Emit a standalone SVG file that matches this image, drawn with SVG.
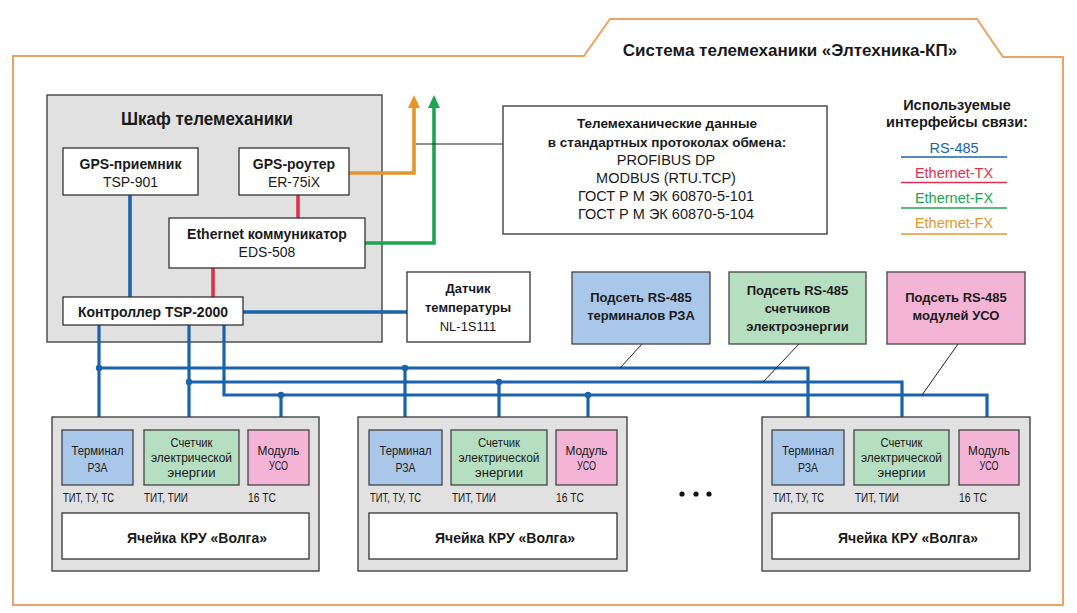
<svg xmlns="http://www.w3.org/2000/svg" width="1077" height="613" viewBox="0 0 1077 613">
<defs>
<style>
text{font-family:"Liberation Sans",Arial,sans-serif;fill:#1a1a1a;}
.b{font-weight:bold;}
.c{text-anchor:middle;}
.f14{font-size:14px;}
.f13{font-size:13px;}
.f12{font-size:13.5px;}
.lg{font-size:14.5px;}
.box{fill:#fff;stroke:#333;stroke-width:1.3;}
.gray{fill:#e1e1e1;stroke:#444;stroke-width:1.4;}
.rza{fill:#a9c7e9;stroke:#444;stroke-width:1.3;}
.cnt{fill:#b6dec1;stroke:#444;stroke-width:1.3;}
.uso{fill:#f4b4d6;stroke:#444;stroke-width:1.3;}
.blue{fill:none;stroke:#1a63ab;stroke-width:3.2;}
.bw{fill:none;stroke:#1a63ab;stroke-width:3.6;}
.red{fill:none;stroke:#e0304f;stroke-width:3.6;}
.org{fill:none;stroke:#e3972a;stroke-width:3.6;}
.grn{fill:none;stroke:#1ea552;stroke-width:3.6;}
.thin{fill:none;stroke:#222;stroke-width:1;}
.dot{fill:#1a63ab;}
</style>
<marker id="ao" markerUnits="userSpaceOnUse" markerWidth="14" markerHeight="14" refX="2" refY="6" orient="auto" viewBox="0 0 14 12">
<path d="M0,0 L13,6 L0,12 Z" fill="#e3972a"/>
</marker>
<marker id="ag" markerUnits="userSpaceOnUse" markerWidth="14" markerHeight="14" refX="2" refY="6" orient="auto" viewBox="0 0 14 12">
<path d="M0,0 L13,6 L0,12 Z" fill="#1ea552"/>
</marker>
</defs>
<rect width="1077" height="613" fill="#fff"/>

<g id="frame">
<path d="M13,56 L584,56 L610,19 L977,19 L1003,57 L1063,57 L1063,605 L13,605 Z" fill="none" stroke="#e9a465" stroke-width="2"/>
<text x="790" y="56" class="b c" style="font-size:17px">Система телемеханики «Элтехника-КП»</text>
</g>

<g id="cabinet">
<rect x="47" y="95" width="335" height="247" class="gray"/>
<text x="207" y="125" class="b c" style="font-size:18px" textLength="172" lengthAdjust="spacingAndGlyphs">Шкаф телемеханики</text>
</g>

<g id="connectors">
<line x1="130" y1="195" x2="130" y2="297" class="bw"/>
<line x1="298" y1="195" x2="298" y2="218" class="red"/>
<line x1="213" y1="268" x2="213" y2="297" class="red"/>
<line x1="243" y1="312" x2="407" y2="312" class="bw"/>
<polyline points="349,173 414,173 414,106" class="org" marker-end="url(#ao)"/>
<polyline points="365,243 434,243 434,106" class="grn" marker-end="url(#ag)"/>
<line x1="416" y1="144" x2="503" y2="144" class="thin"/>
<polyline points="99,325 99,430" class="blue"/>
<polyline points="189,325 189,430" class="blue"/>
<polyline points="224,325 224,395 987,395 987,430" class="blue"/>
<polyline points="99,368 808,368 808,430" class="blue"/>
<polyline points="189,382 902,382 902,430" class="blue"/>
<line x1="281" y1="395" x2="281" y2="430" class="blue"/>
<line x1="405" y1="368" x2="405" y2="430" class="blue"/>
<line x1="499" y1="382" x2="499" y2="430" class="blue"/>
<line x1="588" y1="395" x2="588" y2="430" class="blue"/>
<circle cx="99" cy="368" r="3.2" class="dot"/>
<circle cx="189" cy="382" r="3.2" class="dot"/>
<circle cx="281" cy="395" r="3.2" class="dot"/>
<circle cx="405" cy="368" r="3.2" class="dot"/>
<circle cx="499" cy="382" r="3.2" class="dot"/>
<circle cx="588" cy="395" r="3.2" class="dot"/>
<line x1="642" y1="344" x2="620" y2="368" class="thin"/>
<line x1="799" y1="344" x2="763" y2="382" class="thin"/>
<line x1="958" y1="344" x2="922" y2="395" class="thin"/>
</g>

<g id="gps-receiver">
<rect x="63" y="148" width="135" height="47" class="box"/>
<text x="130.5" y="169" class="b c f14">GPS-приемник</text>
<text x="130.5" y="187" class="c f14">TSP-901</text>
</g>
<g id="gps-router">
<rect x="239" y="148" width="110" height="47" class="box"/>
<text x="294" y="169" class="b c f14">GPS-роутер</text>
<text x="294" y="187" class="c f14">ER-75iX</text>
</g>
<g id="ethernet-switch">
<rect x="169" y="218" width="196" height="50" class="box"/>
<text x="267" y="239" class="b c f14">Ethernet коммуникатор</text>
<text x="267" y="257" class="c f14">EDS-508</text>
</g>
<g id="controller">
<rect x="63" y="297" width="180" height="28" class="box"/>
<text x="153" y="317" class="b c f14">Контроллер TSP-2000</text>
</g>

<g id="protocols">
<rect x="503" y="106" width="324" height="128" class="box"/>
<text x="667" y="128" class="b c" style="font-size:13.5px">Телемеханические данные</text>
<text x="667" y="147" class="b c" style="font-size:13.5px">в стандартных протоколах обмена:</text>
<text x="666" y="165" class="c" style="font-size:14.5px">PROFIBUS DP</text>
<text x="666" y="183" class="c" style="font-size:14.5px">MODBUS (RTU.TCP)</text>
<text x="666" y="201" class="c" style="font-size:14.5px">ГОСТ Р М ЭК 60870-5-101</text>
<text x="666" y="219" class="c" style="font-size:14.5px">ГОСТ Р М ЭК 60870-5-104</text>
</g>

<g id="legend">
<text x="957" y="110" class="b c lg">Используемые</text>
<text x="957" y="127" class="b c lg">интерфейсы связи:</text>
<text x="954" y="153" class="c lg" style="fill:#1a63ab">RS-485</text>
<line x1="901" y1="157" x2="1007" y2="157" stroke="#1a63ab" stroke-width="1.6"/>
<text x="954" y="178" class="c lg" style="fill:#e0304f">Ethernet-TX</text>
<line x1="901" y1="182.5" x2="1007" y2="182.5" stroke="#e0304f" stroke-width="1.6"/>
<text x="954" y="203" class="c lg" style="fill:#1ea552">Ethernet-FX</text>
<line x1="901" y1="208" x2="1007" y2="208" stroke="#1ea552" stroke-width="1.6"/>
<text x="954" y="228" class="c lg" style="fill:#e3972a">Ethernet-FX</text>
<line x1="901" y1="234" x2="1007" y2="234" stroke="#e3972a" stroke-width="1.6"/>
</g>

<g id="temp-sensor">
<rect x="407" y="272" width="123" height="70" class="box"/>
<text x="468" y="293" class="b c f13">Датчик</text>
<text x="468" y="312" class="b c f13">температуры</text>
<text x="468" y="331" class="c f13">NL-1S111</text>
</g>
<g id="subnet-rza">
<rect x="572" y="272" width="138" height="72" class="rza"/>
<text x="641" y="302" class="b c f13">Подсеть RS-485</text>
<text x="641" y="320" class="b c f13">терминалов РЗА</text>
</g>
<g id="subnet-meters">
<rect x="729" y="272" width="137" height="72" class="cnt"/>
<text x="797.5" y="295" class="b c f13">Подсеть RS-485</text>
<text x="797.5" y="313" class="b c f13">счетчиков</text>
<text x="797.5" y="331" class="b c f13">электроэнергии</text>
</g>
<g id="subnet-uso">
<rect x="887" y="272" width="138" height="72" class="uso"/>
<text x="956" y="302" class="b c f13">Подсеть RS-485</text>
<text x="956" y="320" class="b c f13">модулей УСО</text>
</g>

<g id="cell-1">
<rect x="52" y="417" width="267" height="154" class="gray"/>
<rect x="62" y="430" width="71" height="55" class="rza"/>
<text x="97.5" y="455" class="c f12" textLength="52" lengthAdjust="spacingAndGlyphs">Терминал</text>
<text x="97.5" y="472" class="c f12" textLength="20" lengthAdjust="spacingAndGlyphs">РЗА</text>
<rect x="144" y="430" width="95" height="55" class="cnt"/>
<text x="191.5" y="447" class="c f12" textLength="42" lengthAdjust="spacingAndGlyphs">Счетчик</text>
<text x="191.5" y="462" class="c f12" textLength="81" lengthAdjust="spacingAndGlyphs">электрической</text>
<text x="191.5" y="477" class="c f12" textLength="48" lengthAdjust="spacingAndGlyphs">энергии</text>
<rect x="248" y="430" width="61" height="55" class="uso"/>
<text x="278.5" y="455" class="c f12" textLength="42" lengthAdjust="spacingAndGlyphs">Модуль</text>
<text x="278.5" y="470" class="c f12" textLength="19" lengthAdjust="spacingAndGlyphs">УСО</text>
<text x="63" y="502" class="f12" textLength="51" lengthAdjust="spacingAndGlyphs">ТИТ, ТУ, ТС</text>
<text x="144" y="502" class="f12" textLength="44" lengthAdjust="spacingAndGlyphs">ТИТ, ТИИ</text>
<text x="248" y="502" class="f12" textLength="28" lengthAdjust="spacingAndGlyphs">16 ТС</text>
<rect x="62" y="513" width="247" height="46" class="box"/>
<text x="197" y="543" class="b c f14">Ячейка КРУ «Волга»</text>
</g>

<g id="cell-2">
<rect x="358" y="417" width="269" height="154" class="gray"/>
<rect x="369" y="430" width="73" height="55" class="rza"/>
<text x="405.5" y="455" class="c f12" textLength="52" lengthAdjust="spacingAndGlyphs">Терминал</text>
<text x="405.5" y="472" class="c f12" textLength="20" lengthAdjust="spacingAndGlyphs">РЗА</text>
<rect x="451" y="430" width="96" height="55" class="cnt"/>
<text x="499" y="447" class="c f12" textLength="42" lengthAdjust="spacingAndGlyphs">Счетчик</text>
<text x="499" y="462" class="c f12" textLength="81" lengthAdjust="spacingAndGlyphs">электрической</text>
<text x="499" y="477" class="c f12" textLength="48" lengthAdjust="spacingAndGlyphs">энергии</text>
<rect x="556" y="430" width="61" height="55" class="uso"/>
<text x="586.5" y="455" class="c f12" textLength="42" lengthAdjust="spacingAndGlyphs">Модуль</text>
<text x="586.5" y="470" class="c f12" textLength="19" lengthAdjust="spacingAndGlyphs">УСО</text>
<text x="370" y="502" class="f12" textLength="51" lengthAdjust="spacingAndGlyphs">ТИТ, ТУ, ТС</text>
<text x="452" y="502" class="f12" textLength="44" lengthAdjust="spacingAndGlyphs">ТИТ, ТИИ</text>
<text x="556" y="502" class="f12" textLength="28" lengthAdjust="spacingAndGlyphs">16 ТС</text>
<rect x="369" y="513" width="248" height="46" class="box"/>
<text x="505" y="543" class="b c f14">Ячейка КРУ «Волга»</text>
</g>

<g id="ellipsis">
<circle cx="682" cy="494" r="2.6" fill="#111"/>
<circle cx="696" cy="494" r="2.6" fill="#111"/>
<circle cx="709" cy="494" r="2.6" fill="#111"/>
</g>

<g id="cell-3">
<rect x="762" y="417" width="268" height="154" class="gray"/>
<rect x="772" y="430" width="72" height="55" class="rza"/>
<text x="808" y="455" class="c f12" textLength="52" lengthAdjust="spacingAndGlyphs">Терминал</text>
<text x="808" y="472" class="c f12" textLength="20" lengthAdjust="spacingAndGlyphs">РЗА</text>
<rect x="854" y="430" width="95" height="55" class="cnt"/>
<text x="901.5" y="447" class="c f12" textLength="42" lengthAdjust="spacingAndGlyphs">Счетчик</text>
<text x="901.5" y="462" class="c f12" textLength="81" lengthAdjust="spacingAndGlyphs">электрической</text>
<text x="901.5" y="477" class="c f12" textLength="48" lengthAdjust="spacingAndGlyphs">энергии</text>
<rect x="959" y="430" width="60" height="55" class="uso"/>
<text x="989" y="455" class="c f12" textLength="42" lengthAdjust="spacingAndGlyphs">Модуль</text>
<text x="989" y="470" class="c f12" textLength="19" lengthAdjust="spacingAndGlyphs">УСО</text>
<text x="773" y="502" class="f12" textLength="51" lengthAdjust="spacingAndGlyphs">ТИТ, ТУ, ТС</text>
<text x="855" y="502" class="f12" textLength="44" lengthAdjust="spacingAndGlyphs">ТИТ, ТИИ</text>
<text x="959" y="502" class="f12" textLength="28" lengthAdjust="spacingAndGlyphs">16 ТС</text>
<rect x="772" y="513" width="247" height="46" class="box"/>
<text x="908" y="543" class="b c f14">Ячейка КРУ «Волга»</text>
</g>
</svg>
